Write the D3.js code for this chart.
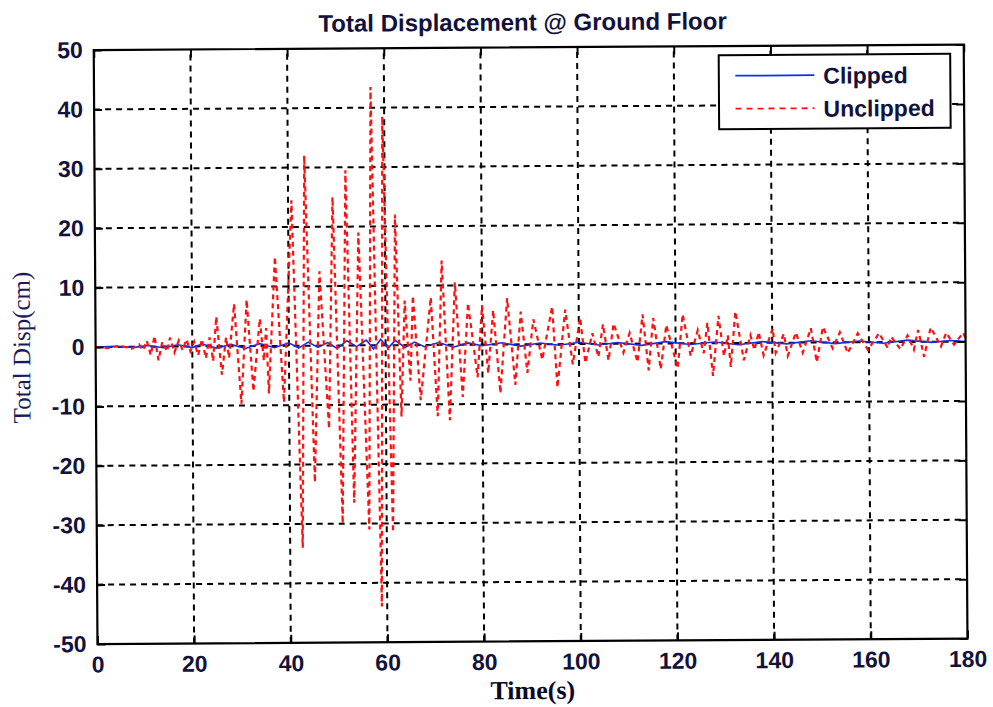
<!DOCTYPE html>
<html>
<head>
<meta charset="utf-8">
<script src="https://cdn.jsdelivr.net/npm/d3@7"></script>
<style>
  html, body { margin: 0; padding: 0; background: #ffffff; }
  svg { display: block; }
</style>
</head>
<body>
<svg id="chart" width="993" height="707"></svg>
<script>
// ---------------- data ----------------
const xTicks = [0, 20, 40, 60, 80, 100, 120, 140, 160, 180];
const xTickLabels = ["0", "20", "40", "60", "80", "100", "120", "140", "160", "180"];
const yTicks = [-50, -40, -30, -20, -10, 0, 10, 20, 30, 40, 50];
const yTickLabels = ["-50", "-40", "-30", "-20", "-10", "0", "10", "20", "30", "40", "50"];
const seriesNames = ["Clipped", "Unclipped"];

// Clipped: [time (s), displacement (cm)]
const clipped = [
  [0,0],[4,0.1],[8,-0.1],[11,0.2],[14,-0.2],[17,0.3],[20,-0.2],[22,0.4],[25,-0.3],[28,0.3],
  [31,-0.4],[34,0.4],[37,-0.3],[40,0.5],[42,-0.4],[44,0.6],[46,-0.3],[48,0.5],[50,-0.5],[52,0.8],
  [54,-0.2],[56,0.9],[57.5,-0.6],[59,1.0],[60.5,-0.5],[62,0.8],[64,-0.4],[66,0.5],[68,-0.3],[71,0.4],
  [74,-0.4],[77,0.3],[80,-0.2],[84,0.3],[88,-0.3],[92,0.2],[96,-0.2],[100,0.3],[104,-0.2],[108,0.2],
  [113,-0.3],[118,0.3],[123,-0.2],[128,0.2],[133,-0.3],[138,0.2],[143,-0.2],[148,0.3],[153,-0.2],[158,0.2],
  [163,-0.2],[168,0.3],[173,-0.1],[177,0.2],[180,0]
];

// Unclipped: [time (s), displacement (cm)]
const unclipped = [
  [0,0],[2.5,-0.2],[5,0.2],[7.5,-0.3],[9.0,0.4],[9.8,-0.6],[10.6,1.0],[11.4,-1.4],[12.2,1.8],[13.0,-2.3],
  [13.8,0.8],[14.8,-0.8],[15.4,1.5],[16.3,-1.0],[17.2,1.0],[18.0,-0.6],[18.8,1.2],[19.6,-0.8],[20.4,0.8],[21.2,-1.5],
  [22.0,1.2],[22.8,-2.0],[23.6,1.5],[24.3,-2.5],[25.0,5.0],[26.1,-4.8],[27.0,1.5],[27.6,-2.0],[28.7,7.1],[30.1,-9.7],
  [31.3,7.8],[32.6,-7.6],[34.0,4.6],[34.8,-2.5],[35.3,3.0],[35.8,-8.0],[37.2,15.0],[38.9,-9.5],[40.7,24.5],[42.6,-34.0],
  [43.4,32.0],[45.2,-23.0],[46.4,12.5],[48.2,-14.0],[49.2,25.0],[50.9,-30.0],[51.9,29.5],[53.3,-26.5],[54.5,19.0],[56.4,-31.0],
  [57.2,43.5],[58.9,-44.0],[59.6,38.5],[61.3,-31.5],[62.1,22.0],[63.2,-12.0],[64.0,7.5],[65.1,-6.0],[65.7,8.3],[67.2,-9.3],
  [69.4,8.0],[70.7,-12.0],[71.7,14.2],[73.2,-12.7],[74.4,10.5],[75.9,-8.8],[77.1,7.0],[79.0,-5.5],[80.0,6.6],[81.2,-4.8],
  [82.3,5.8],[83.7,-8.2],[85.2,7.8],[86.8,-6.8],[88.0,5.5],[89.3,-4.8],[90.6,4.2],[92.4,-2.6],[94.5,6.3],[95.5,-7.3],
  [97.2,5.8],[98.7,-3.4],[100.3,4.4],[101.3,-3.2],[102.8,1.8],[104.0,-2.2],[105.0,3.3],[106.1,-2.8],[107.2,3.4],[109.2,-1.5],
  [110.5,1.8],[112.1,-3.1],[113.2,4.9],[114.4,-4.5],[115.4,4.3],[116.9,-4.3],[118.1,3.1],[120.4,-4.2],[121.5,4.9],[123.1,-2.1],
  [124.6,2.2],[125.8,-1.7],[126.6,3.4],[127.7,-5.5],[128.9,4.6],[130.0,-2.2],[130.8,1.3],[131.4,-4.0],[132.4,5.3],[134.1,-2.9],
  [135.5,1.3],[136.3,-1.2],[137.2,1.8],[138.2,-2.1],[140.1,2.4],[140.7,-1.7],[142.4,1.5],[143.2,-2.2],[144.9,1.7],[146.3,-1.7],
  [148.0,2.4],[149.2,-3.3],[150.5,2.6],[152.5,-1.0],[154.0,1.7],[155.6,-1.8],[157.7,1.5],[159.8,-1.3],[162.1,1.5],[163.9,-1.0],
  [164.6,0.9],[166.5,-1.2],[168.0,1.1],[169.3,-1.3],[170.2,2.0],[171.4,-2.5],[172.8,2.4],[174.9,-0.8],[176.0,1.5],[177.6,-0.5],
  [179.5,1.5],[180,0.6]
];

// ---------------- layout ----------------
const W = 993, H = 707;
const M = { left: 95.6, right: 965.6, top: 47.3, bottom: 641.3 };
const cx = (M.left + M.right) / 2, cy = (M.top + M.bottom) / 2;
const textColor = "#12123c";

const svg = d3.select("#chart");
svg.append("rect").attr("width", W).attr("height", H).attr("fill", "#fff");
const root = svg.append("g").attr("transform", `rotate(-0.36, ${cx}, ${cy})`);

const x = d3.scaleLinear().domain([0, 180]).range([M.left, M.right]);
const y = d3.scaleLinear().domain([-50, 50]).range([M.bottom, M.top]);

// plot background
root.append("rect")
  .attr("x", M.left).attr("y", M.top)
  .attr("width", M.right - M.left).attr("height", M.bottom - M.top)
  .attr("fill", "#fff");

// grid
const grid = root.append("g").attr("stroke", "#000").attr("stroke-width", 2).attr("stroke-dasharray", "6,5");
grid.selectAll("line.v").data(xTicks.filter(d => d > 0 && d < 180)).join("line")
  .attr("class", "v")
  .attr("x1", d => x(d)).attr("x2", d => x(d))
  .attr("y1", M.bottom).attr("y2", M.top);
grid.selectAll("line.h").data(yTicks.filter(d => d > -50 && d < 50)).join("line")
  .attr("class", "h")
  .attr("x1", M.left).attr("x2", M.right)
  .attr("y1", d => y(d)).attr("y2", d => y(d));

// series
const line = d3.line().x(d => x(d[0])).y(d => y(d[1]));
root.append("path").datum(clipped)
  .attr("fill", "none").attr("stroke", "#1030e0").attr("stroke-width", 1.6)
  .attr("d", line);
root.append("path").datum(unclipped)
  .attr("fill", "none").attr("stroke", "#ff1010").attr("stroke-width", 2.2)
  .attr("stroke-dasharray", "5,4")
  .attr("d", line);

// axes (inward ticks)
const fontTick = "'Liberation Sans', Arial, sans-serif";
const xAxis = d3.axisBottom(x).tickValues(xTicks)
  .tickFormat((d, i) => xTickLabels[i]).tickSize(-8).tickPadding(12);
const yAxis = d3.axisLeft(y).tickValues(yTicks)
  .tickFormat((d, i) => yTickLabels[i]).tickSize(-8).tickPadding(11);

const gx = root.append("g").attr("transform", `translate(0,${M.bottom})`).call(xAxis);
const gy = root.append("g").attr("transform", `translate(${M.left},0)`).call(yAxis);
const gxt = root.append("g").attr("transform", `translate(0,${M.top})`)
  .call(d3.axisTop(x).tickValues(xTicks).tickFormat("").tickSize(-8));
const gyr = root.append("g").attr("transform", `translate(${M.right},0)`)
  .call(d3.axisRight(y).tickValues(yTicks).tickFormat("").tickSize(-8));

[gx, gy, gxt, gyr].forEach(g => {
  g.select(".domain").remove();
  g.selectAll(".tick line").attr("stroke", "#000").attr("stroke-width", 2);
  g.selectAll(".tick text")
    .attr("fill", textColor)
    .style("font-family", fontTick)
    .style("font-size", "23px")
    .style("font-weight", "bold");
});

// frame
root.append("rect")
  .attr("x", M.left).attr("y", M.top)
  .attr("width", M.right - M.left).attr("height", M.bottom - M.top)
  .attr("fill", "none").attr("stroke", "#000").attr("stroke-width", 2.2);

// title
root.append("text")
  .attr("x", cx - 6).attr("y", 30.5)
  .attr("text-anchor", "middle")
  .attr("fill", textColor)
  .style("font-family", fontTick).style("font-size", "24px").style("font-weight", "bold")
  .text("Total Displacement @ Ground Floor");

// x label
root.append("text")
  .attr("x", cx).attr("y", 699)
  .attr("text-anchor", "middle")
  .attr("fill", "#0a0a28")
  .style("font-family", "'Liberation Serif', 'Times New Roman', serif")
  .style("font-size", "26px").style("font-weight", "bold")
  .text("Time(s)");

// y label
root.append("text")
  .attr("transform", `translate(30,${cy}) rotate(-90)`)
  .attr("text-anchor", "middle")
  .attr("fill", "#1a1a5a")
  .style("font-family", "'Liberation Serif', 'Times New Roman', serif")
  .style("font-size", "25px")
  .text("Total Disp(cm)");

// legend
const lg = root.append("g");
lg.append("rect")
  .attr("x", 720.5).attr("y", 56.5).attr("width", 231.5).attr("height", 74)
  .attr("fill", "#fff").attr("stroke", "#000").attr("stroke-width", 2);
const legendStyles = [
  { color: "#1030e0", dash: null },
  { color: "#ff1010", dash: "6,5" }
];
seriesNames.forEach((name, i) => {
  const ly = 77 + i * 33;
  lg.append("line")
    .attr("x1", 737).attr("x2", 816).attr("y1", ly).attr("y2", ly)
    .attr("stroke", legendStyles[i].color).attr("stroke-width", 1.8)
    .attr("stroke-dasharray", legendStyles[i].dash);
  lg.append("text")
    .attr("x", 825).attr("y", ly + 8.5)
    .attr("fill", textColor)
    .style("font-family", fontTick).style("font-size", "23px").style("font-weight", "bold")
    .text(name);
});
</script>
</body>
</html>
